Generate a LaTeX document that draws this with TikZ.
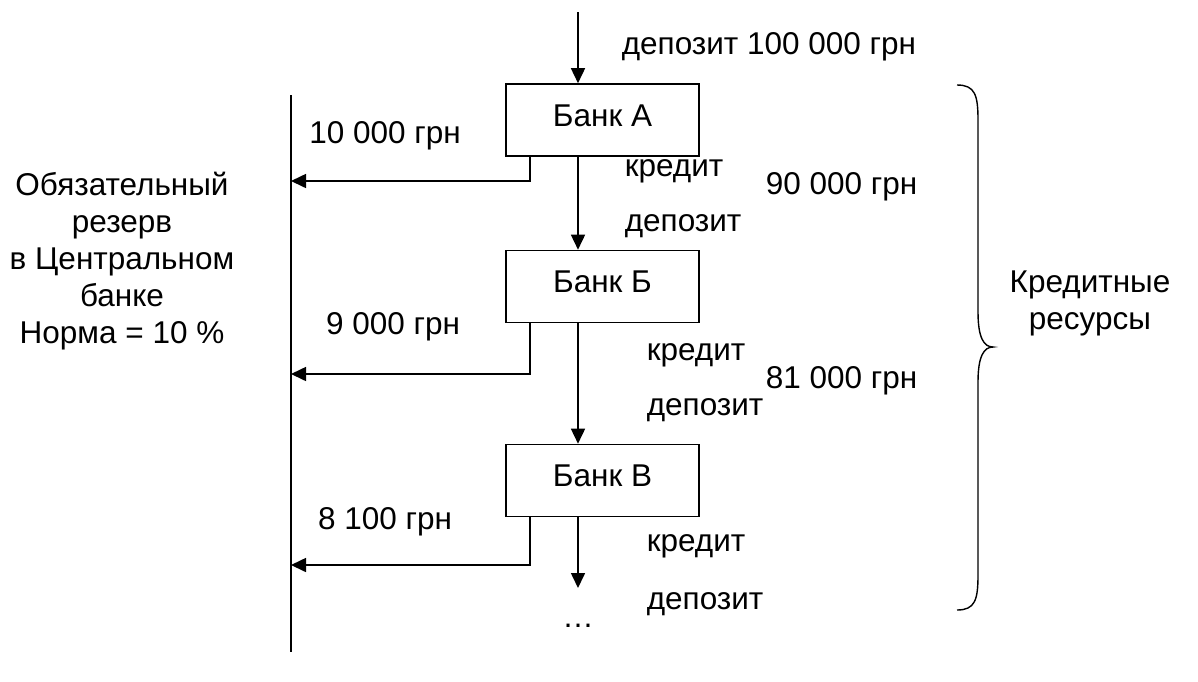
\documentclass[tikz,border=0pt]{standalone}
\usepackage{fontspec}
\setmainfont{Liberation Sans}
\usetikzlibrary{arrows.meta}
\newcommand{\txtsize}{\fontsize{31.5}{37}\selectfont}
\tikzset{
  bank/.style={draw, minimum width=193pt, minimum height=72pt, inner sep=0pt,
    text height=23pt, text depth=11pt, font=\txtsize},
  lbl/.style={inner sep=0pt, anchor=west, font=\txtsize},
  lblc/.style={inner sep=0pt, font=\txtsize, align=center},
  flow/.style={-{Triangle[length=15pt,width=14pt]}},
}
\begin{document}
\begin{tikzpicture}[x=1pt, y=-1pt, line width=1.6pt]
\useasboundingbox (0,0) rectangle (1198,681);

% banks
\node[bank] (A) at (602.5,120) {Банк А};
\node[bank] (B) at (602.5,286.5) {Банк Б};
\node[bank] (V) at (602.5,480.5) {Банк В};

% main deposit/credit chain
\coordinate (top) at (578,12);
\coordinate (tail) at (578,588);
\draw[flow] (top) -- (top |- A.north);
\draw[flow] (top |- A.south) -- (top |- B.north);
\draw[flow] (top |- B.south) -- (top |- V.north);
\draw[flow] (top |- V.south) -- (tail);
\node[inner sep=0pt, font=\txtsize] (dots) at (578,626) {…};

% central bank reserve line
\coordinate (ctop) at (291,95);
\coordinate (cbot) at (291,652);
\draw (ctop) -- (cbot);
\coordinate (rA) at (291,181);
\coordinate (rB) at (291,374);
\coordinate (rV) at (291,565);
\draw[flow] ([xshift=25pt]A.south west) |- (rA);
\draw[flow] ([xshift=25pt]B.south west) |- (rB);
\draw[flow] ([xshift=25pt]V.south west) |- (rV);

% labels
\node[lbl] (d0) at (621,47) {депозит 100 000 грн};
\node[lblc] (rsA) at (385,136) {10 000 грн};
\node[lblc] (rsB) at (393,327) {9 000 грн};
\node[lblc] (rsV) at (385,522) {8 100 грн};
\node[lbl] (kA) at (624,171) {кредит};
\node[lbl] (dA) at (624,226) {депозит};
\node[lbl] (kB) at (646,355) {кредит};
\node[lbl] (dB) at (646,410) {депозит};
\node[lbl] (kV) at (646,546) {кредит};
\node[lbl] (dV) at (646,604) {депозит};
\node[lbl] (sA) at (765,187) {90 000 грн};
\node[lbl] (sB) at (765,381) {81 000 грн};

\node[lblc] (cb) at (122,261) {Обязательный\\резерв\\в Центральном\\банке\\Норма = 10 \%};
\node[lblc] (kr) at (1090,303) {Кредитные\\ресурсы};

% brace over the credit resources
\draw[line width=1.4pt] (957,85) .. controls (975,85) and (978,95) .. (978,120)
  -- (978,312) .. controls (978,338) and (984,347) .. (993,347)
  .. controls (984,347) and (978,356) .. (978,382)
  -- (978,575) .. controls (978,600) and (975,610) .. (957,610);
\end{tikzpicture}
\end{document}
